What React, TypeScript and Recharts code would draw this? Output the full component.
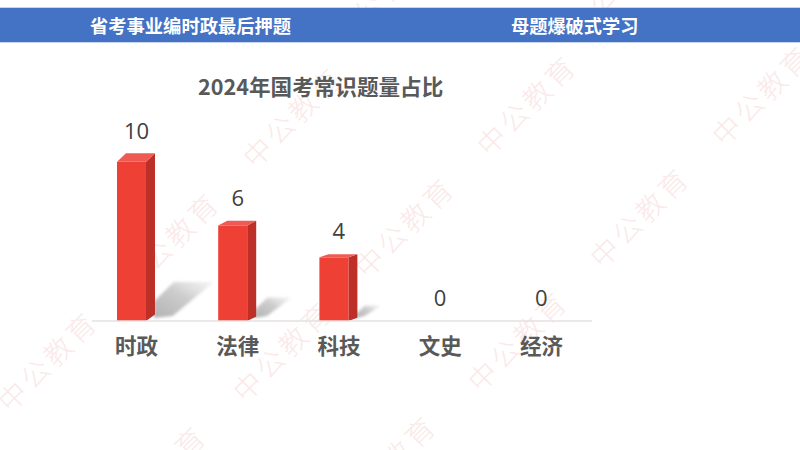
import React from "react";
import { BarChart, Bar, XAxis, YAxis, LabelList } from "recharts";

const categories = ["时政", "法律", "科技", "文史", "经济"];
const questionCounts = [10, 6, 4, 0, 0];
const chartData = categories.map((name, i) => ({ name, value: questionCounts[i] }));

const headerLeft = "省考事业编时政最后押题";
const headerRight = "母题爆破式学习";
const chartTitle = "2024年国考常识题量占比";
const watermarkText = "中公教育";
const watermarkCentres = [
  [169, 241], [404, 226], [639, 216],
  [292, 116], [526, 104], [761, 94],
  [47, 360], [282, 350], [517, 340],
  [156, 474], [386, 464],
  [380, -5], [615, -15],
];

const FONT = '"Noto Sans CJK SC", "Noto Sans", sans-serif';
const DEPTH = 9;

function Bar3D(props: any) {
  const { x, y, width, height } = props;
  if (!height || height <= 0) return null;
  const left = x - 5;
  const right = left + width;
  const base = y + height;
  const topDy = 3 + ((height - 64) / 95) * 5.5;
  const baseDy = 3.3 + ((height - 64) / 95) * 3.2;
  const reach = height * 0.37;
  const rise = height * 0.245;
  const sx = right + DEPTH;
  const shadow = [
    [sx - 1, base - 3],
    [sx - 1, base - rise * 0.5],
    [sx + reach * 0.32, base - rise],
    [sx + reach, base - rise],
    [sx + reach * 0.3, base - 5],
  ].map((p) => p.join(",")).join(" ");
  return (
    <g>
      <polygon points={shadow} fill="url(#shadowFade)" filter="url(#softShadow)" />
      <polygon
        points={`${right},${y} ${sx},${y - topDy} ${sx},${base - baseDy} ${right},${base}`}
        fill="#BC3027"
      />
      <polygon
        points={`${left},${y} ${left + DEPTH},${y - topDy} ${sx},${y - topDy} ${right},${y}`}
        fill="#EE5A54"
      />
      <rect x={left} y={y} width={width} height={height} fill="#EF4036" />
    </g>
  );
}

function ValueLabel(props: any) {
  const { x, y, width, height, value } = props;
  const h = Math.abs(height || 0);
  return (
    <text
      x={x + width / 2}
      y={y - 22 - h * 0.05}
      dy={7}
      textAnchor="middle"
      fontFamily='"Open Sans", "Noto Sans", sans-serif'
      fontSize={22}
      fill="#404040"
    >
      {value}
    </text>
  );
}

export default function App() {
  return (
    <div style={{ position: "absolute", left: 0, top: 0, width: 800, height: 450, overflow: "hidden", background: "#fff", fontFamily: FONT }}>
      <svg width={800} height={450} style={{ position: "absolute", left: 0, top: 0 }}>
        <defs>
          <linearGradient id="shadowFade" x1="0" y1="1" x2="1" y2="0">
            <stop offset="0%" stopColor="#aaaaaa" stopOpacity={0.9} />
            <stop offset="55%" stopColor="#c4c4c4" stopOpacity={0.85} />
            <stop offset="100%" stopColor="#e4e4e4" stopOpacity={0.4} />
          </linearGradient>
          <filter id="softShadow" x="-20%" y="-20%" width="140%" height="140%">
            <feGaussianBlur stdDeviation="1.8" />
          </filter>
        </defs>
        {watermarkCentres.map(([cx, cy], i) => (
          <text
            key={i}
            x={cx}
            y={cy}
            transform={`rotate(-45 ${cx} ${cy})`}
            textAnchor="middle"
            dominantBaseline="central"
            fontFamily='"Noto Sans CJK SC", sans-serif'
            fontWeight={300}
            fontSize={28}
            letterSpacing={4}
            fill="#fae9e9"
          >
            {watermarkText}
          </text>
        ))}
      </svg>

      <div style={{ position: "absolute", left: 0, top: 8, width: 800, height: 34, background: "#4472C4", boxShadow: "0 0 0 0.5px #8fa9db" }} />
      <div style={{ position: "absolute", left: 90, top: 8, height: 34, lineHeight: "34px", color: "#fff", fontWeight: 700, fontSize: 18.3, whiteSpace: "nowrap" }}>{headerLeft}</div>
      <div style={{ position: "absolute", left: 511, top: 8, height: 34, lineHeight: "34px", color: "#fff", fontWeight: 700, fontSize: 18.2, whiteSpace: "nowrap" }}>{headerRight}</div>
      <div style={{ position: "absolute", left: 198, top: 69, height: 34, lineHeight: "34px", color: "#595959", fontWeight: 700, fontSize: 21.6, whiteSpace: "nowrap" }}>{chartTitle}</div>

      <div style={{ position: "absolute", left: 0, top: 0 }}>
        <BarChart
          width={800}
          height={450}
          data={chartData}
          margin={{ top: 130, right: 208, bottom: 89, left: 92 }}
          barCategoryGap="0%"
        >
          <YAxis hide domain={[0, 12]} />
          <XAxis
            dataKey="name"
            height={40}
            padding={{ left: -6, right: 0 }}
            axisLine={{ stroke: "#E6E1E1", strokeWidth: 1.5 }}
            tickLine={false}
            tickMargin={12}
            interval={0}
            tick={{ fill: "#595959", fontSize: 21.5, fontWeight: 700, fontFamily: FONT }}
          />
          <Bar dataKey="value" barSize={29} isAnimationActive={false} shape={<Bar3D />}>
            <LabelList dataKey="value" content={<ValueLabel />} />
          </Bar>
        </BarChart>
      </div>
    </div>
  );
}
